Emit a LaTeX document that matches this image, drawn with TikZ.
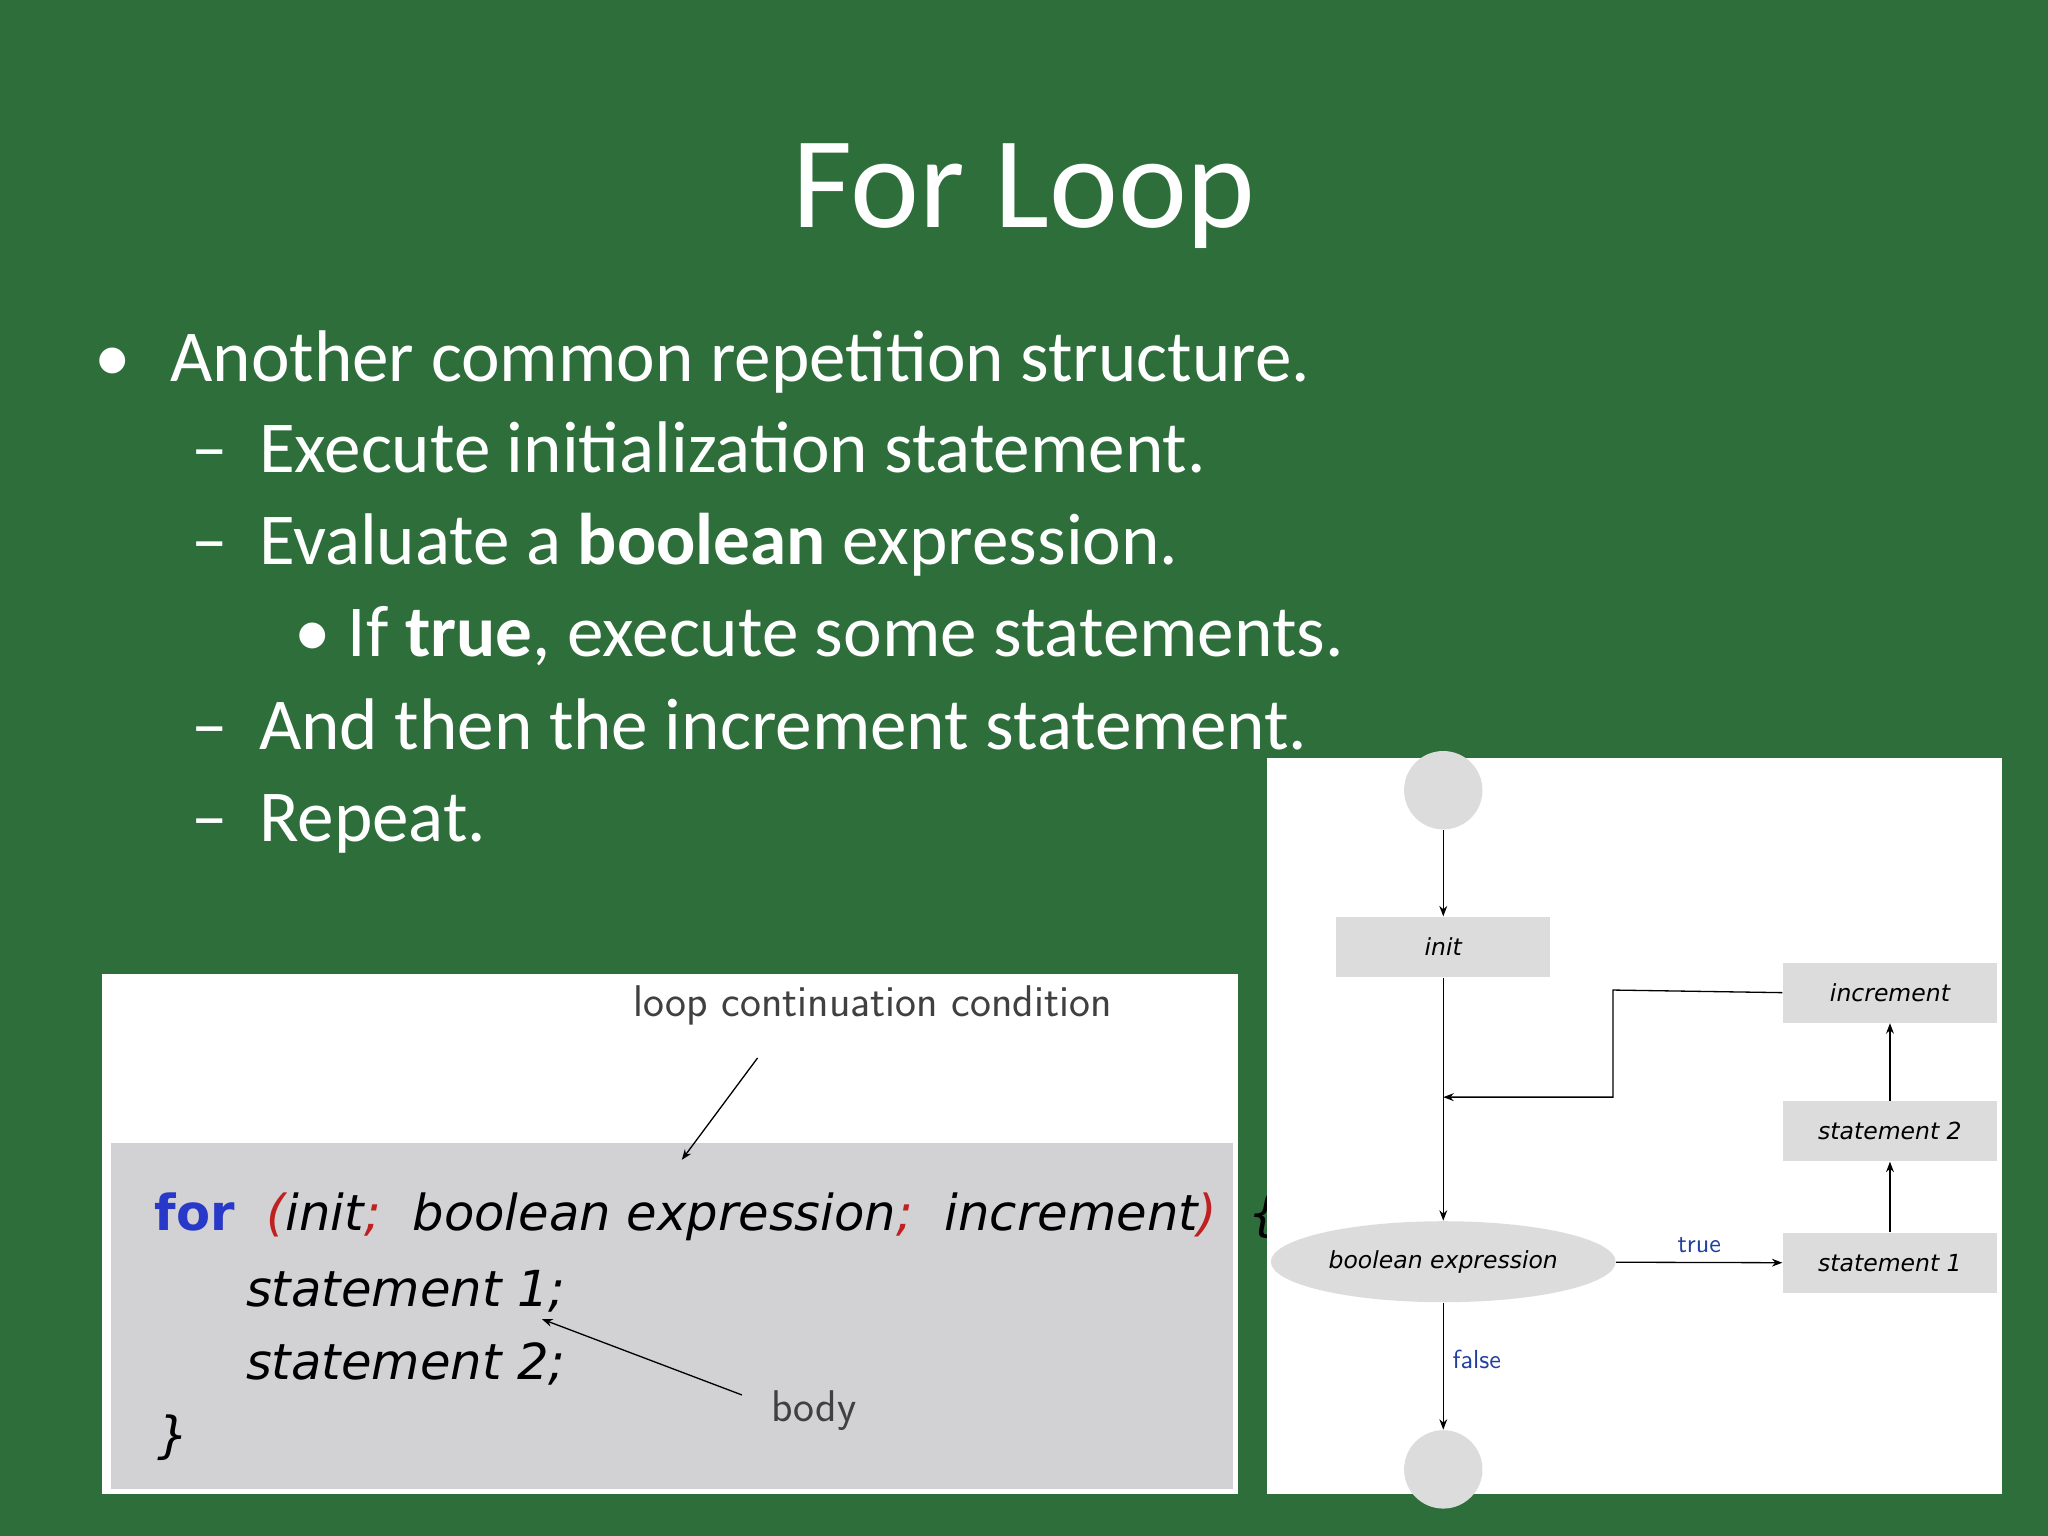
\documentclass[tikz,border=0pt]{standalone}
\usepackage{fontspec}
\setmainfont{Carlito}
\newfontfamily\codefont{DejaVu Sans}
\usetikzlibrary{arrows.meta,shapes.geometric}
\definecolor{bg}{HTML}{2D6E3B}
\definecolor{panelgray}{HTML}{D2D2D4}
\definecolor{boxgray}{HTML}{DCDCDC}
\definecolor{kwblue}{HTML}{2838C8}
\definecolor{parred}{HTML}{C02020}
\definecolor{lblue}{HTML}{2040A0}
\tikzset{
 bul/.style={anchor=base west,text=white,font=\fontsize{28}{30}\selectfont,inner sep=0},
 fbox/.style={fill=boxgray,minimum width=82pt,minimum height=23pt,inner sep=0,font=\codefont\itshape\fontsize{9}{10}\selectfont},
 code/.style={anchor=base west,inner sep=0,font=\codefont\itshape\fontsize{19}{21}\selectfont},
 arr/.style={-{Stealth[length=4pt,width=3pt]},line width=0.5pt},
}
\begin{document}
\begin{tikzpicture}[x=0.5pt,y=-0.5pt]
\fill[bg] (0,0) rectangle (1568,1176);
\useasboundingbox (0,0) rectangle (1568,1176);
\node[text=white,font=\fontsize{50}{52}\selectfont] (title) at (784,150) {For Loop};
\node[bul] (b0) at (72,292) {•};
\node[bul] (t0) at (130,292) {Another common repetition structure.};
\node[bul] (d1) at (146,362) {–};
\node[bul] (t1) at (198,362) {Execute initialization statement.};
\node[bul] (d2) at (146,432) {–};
\node[bul] (t2) at (198,432) {Evaluate a \textbf{boolean} expression.};
\node[bul] (b3) at (225,503) {•};
\node[bul] (t3) at (266,503) {If \textbf{true}, execute some statements.};
\node[bul] (d4) at (146,574) {–};
\node[bul] (t4) at (198,574) {And then the increment statement.};
\node[bul] (d5) at (146,644) {–};
\node[bul] (t5) at (198,644) {Repeat.};
% left panel
\fill[white] (78,746) rectangle (948,1144);
\fill[panelgray] (85,875) rectangle (944,1140);
\node[font=\sffamily\fontsize{17}{19}\selectfont,text=black!75] (lcc) at (668,770) {loop continuation condition};
\coordinate (lccs) at (580,810);
\coordinate (lcce) at (522,888);
\draw[arr] (lccs) -- (lcce);
\node[code] (c1) at (118,942) {\textcolor{kwblue}{\textbf{\upshape for}}\ \ \textcolor{parred}{(}init\textcolor{parred}{;}\ \ boolean expression\textcolor{parred}{;}\ \ increment\textcolor{parred}{)}\ \ \{};
\node[code] (c2) at (188,1000) {statement 1;};
\node[code] (c3) at (188,1056) {statement 2;};
\node[code] (c4) at (120,1112) {\}};
\node[font=\sffamily\fontsize{17}{19}\selectfont,text=black!75] (body) at (623,1080) {body};
\coordinate (bs) at (568,1068);
\coordinate (be) at (415,1010);
\draw[arr] (bs) -- (be);
% right panel
\fill[white] (970,580) rectangle (1533,1144);
\node[circle,fill=boxgray,minimum size=30pt,inner sep=0] (start) at (1105,605) {};
\node[fbox,minimum width=82pt] (init) at (1105,725) {init};
\node[ellipse,fill=boxgray,minimum width=132pt,minimum height=31pt,inner sep=0,font=\codefont\itshape\fontsize{9}{10}\selectfont] (cond) at (1105,966) {boolean expression};
\node[fbox] (s1) at (1447,967) {statement 1};
\node[fbox] (s2) at (1447,866) {statement 2};
\node[fbox] (inc) at (1447,760) {increment};
\node[circle,fill=boxgray,minimum size=30pt,inner sep=0] (stop) at (1105,1125) {};
\draw[arr] (start) -- (init);
\draw[arr] (init) -- (cond);
\draw[arr] (cond) -- node[above,text=lblue,font=\sffamily\fontsize{10}{11}\selectfont] {true} (s1);
\draw[arr] (s1) -- (s2);
\draw[arr] (s2) -- (inc);
\coordinate (j) at (1105,840);
\draw[arr] (inc.west) -- (1235,758) -- (1235,840) -- (j);
\draw[arr] (cond) -- node[right,pos=0.45,text=lblue,font=\sffamily\fontsize{10}{11}\selectfont] {false} (stop);
\end{tikzpicture}
\end{document}
